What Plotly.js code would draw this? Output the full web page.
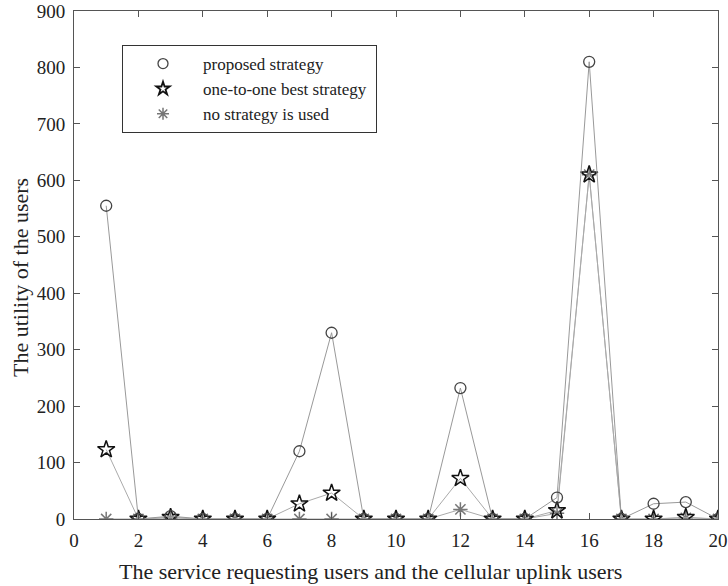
<!DOCTYPE html>
<html><head><meta charset="utf-8">
<script src="https://cdn.plot.ly/plotly-3.0.1.min.js"></script>
<style>body{margin:0;background:#fff}#c{width:728px;height:586px}</style>
</head><body><div id="c"></div>
<script>
var users = [1,2,3,4,5,6,7,8,9,10,11,12,13,14,15,16,17,18,19,20];
var proposed = [555,0,5,0,0,0,120,330,0,0,0,232,0,0,38,810,0,27,30,0];
var oneToOne = [123,0,3,0,0,0,27,46,0,0,0,72,0,0,15,610,0,0,3,0];
var noStrategy = [0,0,2,0,0,0,0,0,0,0,0,17,0,0,10,610,0,0,2,0];
var names = ['proposed strategy','one-to-one best strategy','no strategy is used'];
var xTicks = [0,2,4,6,8,10,12,14,16,18,20];
var yTicks = [0,100,200,300,400,500,600,700,800,900];
var xTitle = 'The service requesting users and the cellular uplink users';
var yTitle = 'The utility of the users';

var font = 'Liberation Serif, Times New Roman, serif';
var M = {l:74,r:10,t:11,b:67};
var PW = 728 - M.l - M.r, PH = 586 - M.t - M.b;
function px(x){return (x - M.l)/PW;}
function py(y){return (586 - M.b - y)/PH;}
var mk = [
  {symbol:'circle-open',size:11,color:'#444444',line:{color:'#444444',width:1.3}},
  {symbol:'star-open',size:13,color:'#111111',line:{color:'#111111',width:1.5}},
  {symbol:'asterisk-open',size:12,color:'#777777',line:{color:'#777777',width:1.5}}
];
var lmk = [
  {symbol:'circle-open',size:10,color:'#444444',line:{color:'#444444',width:1.3}},
  {symbol:'star-open',size:10,color:'#111111',line:{color:'#111111',width:1.8}},
  {symbol:'asterisk-open',size:10,color:'#777777',line:{color:'#777777',width:1.5}}
];
var traces = [
 {x:users,y:noStrategy,name:names[2],mode:'lines+markers',line:{color:'#aaaaaa',width:1},marker:mk[2],showlegend:false},
 {x:users,y:oneToOne,name:names[1],mode:'lines+markers',line:{color:'#aaaaaa',width:1},marker:mk[1],showlegend:false},
 {x:users,y:proposed,name:names[0],mode:'lines+markers',line:{color:'#999999',width:1},marker:mk[0],showlegend:false}
];
for (var i=0;i<3;i++){
  traces.push({x:[null],y:[null],name:names[i]+'\u00a0',mode:'markers',marker:lmk[i],showlegend:true});
}
var layout = {
  width:728,height:586,margin:M,
  paper_bgcolor:'#fff',plot_bgcolor:'#fff',showlegend:true,
  font:{family:font,color:'#222'},
  legend:{x:px(122),y:py(45),xanchor:'left',yanchor:'top',bgcolor:'#fff',bordercolor:'#333',borderwidth:1,
    font:{family:font,size:17,color:'#222'},itemwidth:70,tracegroupgap:0},
  xaxis:{range:[0,20],tickvals:xTicks,ticktext:xTicks.map(String),ticks:'inside',ticklen:6,tickcolor:'#555',
    showgrid:false,zeroline:false,showline:true,linecolor:'#555',linewidth:1,mirror:'ticks',
    ticklabeloverflow:'allow',ticklabelstandoff:4,
    tickfont:{family:font,size:19,color:'#222'}},
  yaxis:{range:[0,900],tickvals:yTicks,ticktext:yTicks.map(String),ticks:'inside',ticklen:6,tickcolor:'#555',
    showgrid:false,zeroline:false,showline:true,linecolor:'#555',linewidth:1,mirror:'ticks',
    ticklabeloverflow:'allow',ticklabelstandoff:4,
    tickfont:{family:font,size:19,color:'#222'}},
  annotations:[
    {text:xTitle,xref:'paper',yref:'paper',x:px(370),y:py(571),xanchor:'center',yanchor:'middle',showarrow:false,
     font:{family:font,size:22,color:'#222'}},
    {text:yTitle,xref:'paper',yref:'paper',x:px(20),y:py(278),xanchor:'center',yanchor:'middle',showarrow:false,textangle:-90,
     font:{family:font,size:22,color:'#222'}}
  ]
};
Plotly.newPlot('c',traces,layout,{displayModeBar:false});
</script></body></html>
